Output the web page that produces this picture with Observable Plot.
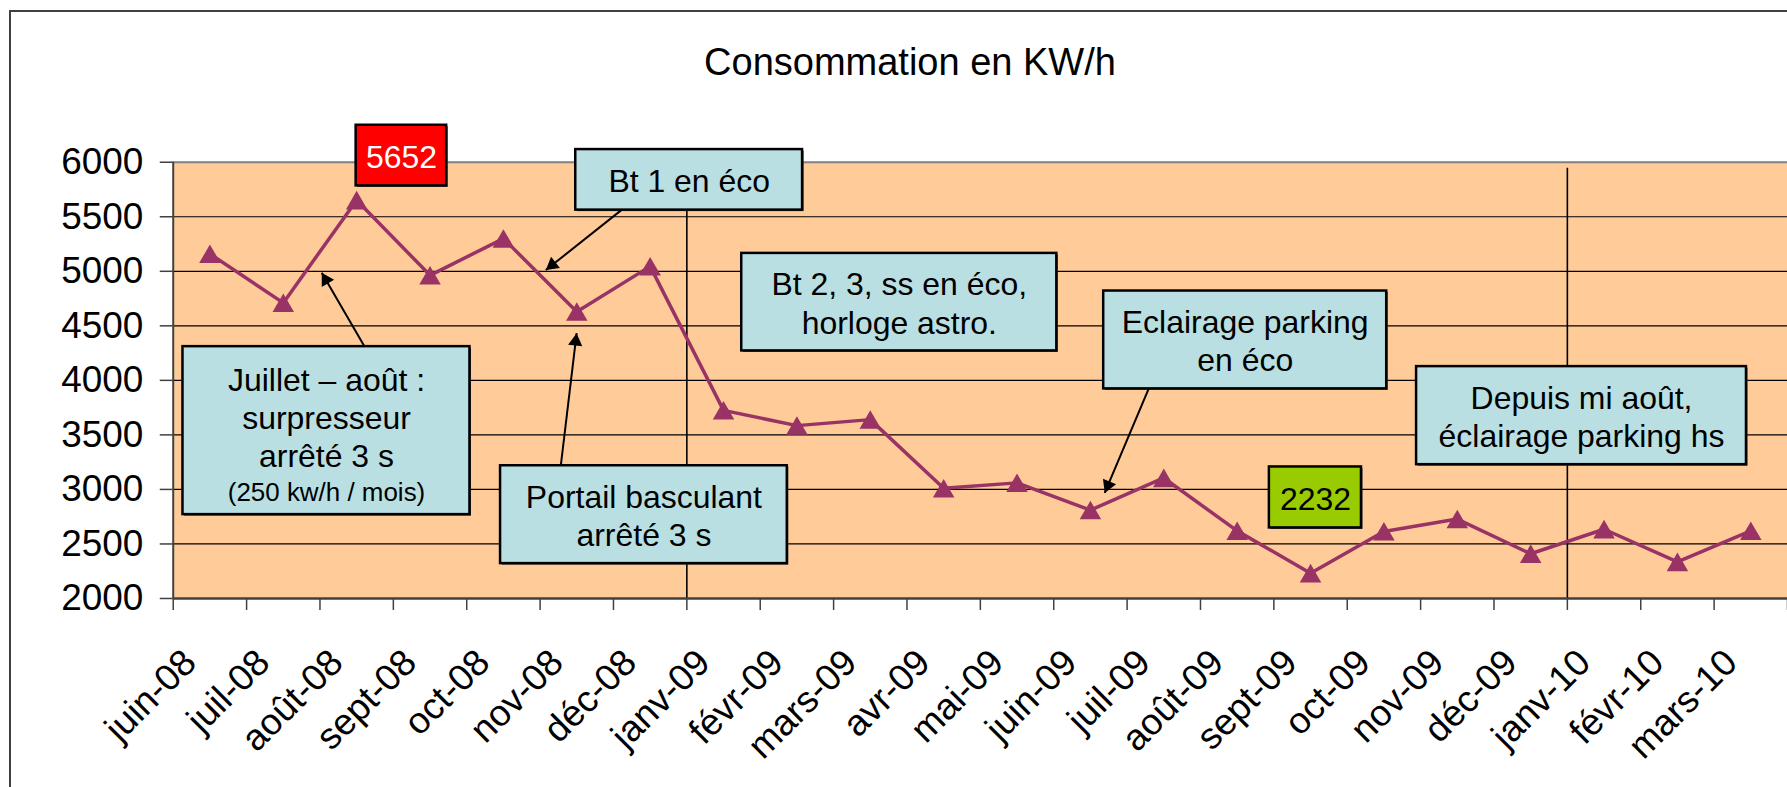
<!DOCTYPE html>
<html>
<head>
<meta charset="utf-8">
<script src="https://cdn.jsdelivr.net/npm/d3@7"></script>
<script src="https://cdn.jsdelivr.net/npm/@observablehq/plot@0.6"></script>
<style>
html, body { margin: 0; padding: 0; background: #fff; overflow: hidden; width: 1787px; height: 787px; }
#wrap { position: relative; width: 1787px; height: 787px; overflow: hidden; }
#border { position: absolute; left: 9px; top: 10px; width: 1900px; height: 900px;
  border-left: 2px solid #404040; border-top: 2px solid #404040; }
#title { position: absolute; left: 0; top: 43px; width: 1820px; text-align: center;
  font: 38px Arial, "Liberation Sans", sans-serif; line-height: 38px; color: #000; }
#chart { position: absolute; left: 0; top: 0; }
#chart svg { display: block; }
</style>
</head>
<body>
<div id="wrap">
  <div id="border"></div>
  <div id="chart"></div>
  <div id="title">Consommation en KW/h</div>
</div>
<script>
// ---- data ----
const months = ["juin-08", "juil-08", "août-08", "sept-08", "oct-08", "nov-08", "déc-08",
  "janv-09", "févr-09", "mars-09", "avr-09", "mai-09", "juin-09", "juil-09", "août-09",
  "sept-09", "oct-09", "nov-09", "déc-09", "janv-10", "févr-10", "mars-10"];
const values = [5160, 4710, 5652, 4963, 5300, 4630, 5045,
  3725, 3585, 3640, 3010, 3060, 2810, 3105, 2620,
  2232, 2615, 2728, 2410, 2635, 2335, 2620];
const yTicks = [2000, 2500, 3000, 3500, 4000, 4500, 5000, 5500, 6000];
const separators = ["janv-09", "janv-10"];

// ---- annotations (data units: x = month slot index, y = kWh) ----
const boxes = [
  {x1: 2.493, x2: 3.727, y1: 5783, y2: 6339, fill: "#FF0000", text: "5652", color: "#fff"},
  {x1: 5.486, x2: 8.577, y1: 5561, y2: 6116, fill: "#B9DFE3", text: "Bt 1 en éco", color: "#000"},
  {x1: 0.133, x2: 4.044, y1: 2769, y2: 4309, fill: "#B9DFE3", text: null, color: "#000"},
  {x1: 4.461, x2: 8.369, y1: 2320, y2: 3217, fill: "#B9DFE3", text: "Portail basculant\narrêté 3 s", color: "#000"},
  {x1: 7.748, x2: 12.042, y1: 4270, y2: 5164, fill: "#B9DFE3", text: "Bt 2, 3, ss en éco,\nhorloge astro.", color: "#000"},
  {x1: 12.681, x2: 16.538, y1: 3922, y2: 4819, fill: "#B9DFE3", text: "Eclairage parking\nen éco", color: "#000"},
  {x1: 16.945, x2: 21.441, y1: 3227, y2: 4126, fill: "#B9DFE3", text: "Depuis mi août,\néclairage parking hs", color: "#000"},
  {x1: 14.939, x2: 16.194, y1: 2647, y2: 3206, fill: "#99CC00", text: "2232", color: "#000"}
];
const juilletText = [
  {x: 2.089, y: 3666, text: "Juillet – août :\nsurpresseur\narrêté 3 s", size: 32},
  {x: 2.089, y: 2989, text: "(250 kw/h / mois)", size: 26}
];
const arrows = [
  {x1: 6.107, y1: 5561, x2: 5.078, y2: 5011},
  {x1: 2.609, y1: 4309, x2: 2.024, y2: 4987},
  {x1: 5.282, y1: 3217, x2: 5.498, y2: 4432},
  {x1: 13.293, y1: 3922, x2: 12.695, y2: 2968}
];

// ---- layout ----
const W = 1790, H = 787, ML = 173, MR = 0, MT = 162, MB = 188;
const kx = (W - ML - MR) / months.length;   // px per slot
const ky = (H - MT - MB) / 4000;            // px per kWh
const headR = 5.3;
const headTip = 2 * Math.sqrt(Math.PI * headR * headR / (Math.sqrt(3) * 3));

const series = months.map((m, i) => ({i: i + 0.5, m, v: values[i]}));
const heads = arrows.map(a => {
  const dxp = (a.x2 - a.x1) * kx, dyp = -(a.y2 - a.y1) * ky;
  const L = Math.hypot(dxp, dyp), ux = dxp / L, uy = dyp / L;
  return {
    x: a.x2 - headTip * ux / kx,
    y: a.y2 + headTip * uy / ky,
    angle: Math.atan2(ux, -uy) * 180 / Math.PI
  };
});
const boxText = boxes.filter(b => b.text).map(b => ({
  x: (b.x1 + b.x2) / 2, y: (b.y1 + b.y2) / 2, text: b.text, color: b.color
}));
const sepIdx = separators.map(s => months.indexOf(s));
const tickIdx = d3.range(months.length + 1);

const font = "Arial, 'Liberation Sans', sans-serif";

const chart = Plot.plot({
  width: W, height: H,
  marginLeft: ML, marginRight: MR, marginTop: MT, marginBottom: MB,
  style: {fontFamily: font, background: "transparent", overflow: "visible", color: "#000"},
  x: {type: "linear", domain: [0, months.length], axis: null},
  y: {domain: [2000, 6000]},
  marks: [
    Plot.frame({fill: "#FFCC99", stroke: null}),
    Plot.ruleY(yTicks.slice(1, -1), {stroke: "#000", strokeWidth: 1.2}),
    Plot.ruleY([6000], {stroke: "#808080", strokeWidth: 2.2}),
    Plot.ruleX(sepIdx, {y1: 2000, y2: 6000, insetBottom: -6, stroke: "#000", strokeWidth: 1.6}),
    Plot.ruleX([0], {y1: 2000, y2: 6000, stroke: "#404040", strokeWidth: 2}),
    Plot.ruleX(tickIdx, {y1: 2000, y2: 2000, insetBottom: -12, stroke: "#404040", strokeWidth: 1.5}),
    Plot.ruleY([2000], {stroke: "#404040", strokeWidth: 2.6}),
    Plot.axisY({ticks: yTicks, tickSize: 13, tickPadding: 17, fontSize: 37, label: null,
      tickFormat: d => String(d), stroke: "#404040", fill: "#000", strokeWidth: 1.5}),
    Plot.text(series, {x: "i", frameAnchor: "bottom", text: "m", rotate: -45,
      textAnchor: "end", lineAnchor: "middle", dx: -20, dy: 58, fontSize: 37, fill: "#000"}),
    Plot.line(series, {x: "i", y: "v", stroke: "#993366", strokeWidth: 3.5}),
    Plot.dot(series, {x: "i", y: "v", symbol: "triangle", r: 8, fill: "#993366", stroke: null, dy: 3}),
    Plot.rect(boxes, {x1: "x1", x2: "x2", y1: "y1", y2: "y2", fill: "#333", dx: 1.5, dy: 1.5}),
    Plot.rect(boxes, {x1: "x1", x2: "x2", y1: "y1", y2: "y2", fill: "fill", stroke: "#000", strokeWidth: 2.5}),
    Plot.text(boxText, {x: "x", y: "y", text: "text", fill: "color", fontSize: 32, lineHeight: 1.2}),
    Plot.text(juilletText, {x: "x", y: "y", text: "text", fontSize: d => d.size, lineHeight: 1.2, fill: "#000"}),
    Plot.link(arrows, {x1: "x1", y1: "y1", x2: "x2", y2: "y2", stroke: "#000", strokeWidth: 2}),
    Plot.dot(heads, {x: "x", y: "y", rotate: "angle", symbol: "triangle", r: headR, fill: "#000", stroke: null})
  ]
});
document.getElementById("chart").appendChild(chart);
</script>
</body>
</html>
